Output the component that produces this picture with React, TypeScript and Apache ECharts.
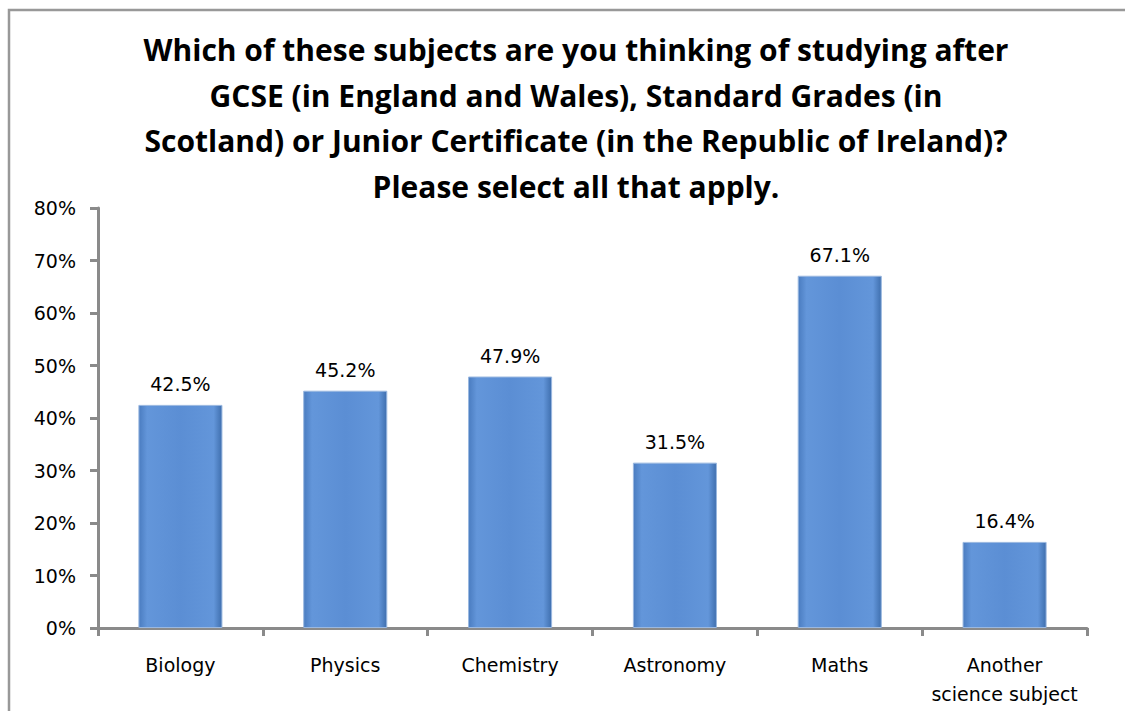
import React, { useEffect, useRef } from "react";
import * as echarts from "echarts";

const titleText =
  "Which of these subjects are you thinking of studying after\nGCSE (in England and Wales), Standard Grades (in\nScotland) or Junior Certificate (in the Republic of Ireland)?\nPlease select all that apply.";
const categories = ["Biology", "Physics", "Chemistry", "Astronomy", "Maths", "Another\nscience subject"];
const values = [42.5, 45.2, 47.9, 31.5, 67.1, 16.4];
const yMax = 80;
const yInterval = 10;

export default function App() {
  const ref = useRef<HTMLDivElement>(null);
  useEffect(() => {
    if (!ref.current) return;
    const chart = echarts.init(ref.current, undefined, { renderer: "svg" });
    chart.setOption({
      animation: false,
      backgroundColor: "#ffffff",
      graphic: [
        {
          type: "rect",
          shape: { x: 9, y: 10, width: 1130, height: 720 },
          style: { fill: "none", stroke: "#989898", lineWidth: 2.5 },
          silent: true,
        },
      ],
      title: {
        text: titleText,
        left: 571,
        textAlign: "center",
        top: 22,
        textStyle: {
          fontFamily: "Open Sans",
          fontWeight: "bold",
          fontSize: 30,
          lineHeight: 45.5,
          color: "#000",
        },
      },
      grid: { left: 98, right: 38, top: 208, bottom: 83, containLabel: false },
      xAxis: {
        type: "category",
        data: categories,
        axisLine: { lineStyle: { color: "#8a8a8a", width: 3 } },
        axisTick: { show: true, length: 8, inside: false, lineStyle: { color: "#8a8a8a", width: 3 } },
        axisLabel: {
          fontFamily: "DejaVu Sans",
          fontSize: 19,
          color: "#000",
          margin: 22,
          lineHeight: 29,
          interval: 0,
        },
      },
      yAxis: {
        type: "value",
        min: 0,
        max: yMax,
        interval: yInterval,
        splitLine: { show: false },
        axisLine: { show: true, lineStyle: { color: "#8a8a8a", width: 3 } },
        axisTick: { show: true, length: 8, lineStyle: { color: "#8a8a8a", width: 3 } },
        axisLabel: {
          formatter: "{value}%",
          fontFamily: "DejaVu Sans",
          fontSize: 19,
          color: "#000",
          margin: 22,
        },
      },
      series: [
        {
          type: "bar",
          data: values,
          barWidth: "51%",
          itemStyle: {
            color: {
              type: "linear",
              x: 0,
              y: 0,
              x2: 1,
              y2: 0,
              colorStops: [
                { offset: 0, color: "#4a7cc0" },
                { offset: 0.1, color: "#6396da" },
                { offset: 0.5, color: "#5b8ed4" },
                { offset: 0.9, color: "#6396da" },
                { offset: 1, color: "#3f6fae" },
              ],
            },
            borderColor: "#9ab8e0",
            borderWidth: 1,
          },
          label: {
            show: true,
            position: "top",
            distance: 11,
            formatter: (p: any) => p.value.toFixed(1) + "%",
            fontFamily: "DejaVu Sans",
            fontSize: 19,
            color: "#000",
          },
        },
      ],
    });
    return () => chart.dispose();
  }, []);
  return <div ref={ref} style={{ width: 1125, height: 711, position: "absolute", left: 0, top: 0 }} />;
}
